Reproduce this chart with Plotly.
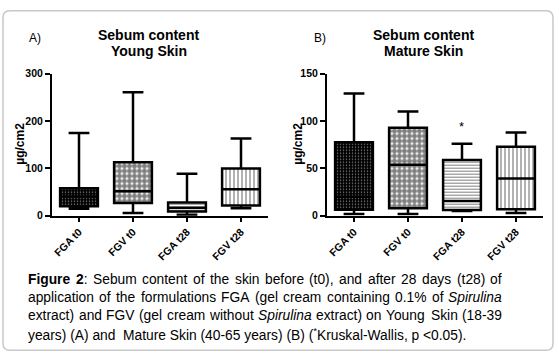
import re
import plotly.graph_objects as go

W, H = 559, 362

# ---------------- data ----------------
categories = ["FGA t0", "FGV t0", "FGA t28", "FGV t28"]

young_low = [15, 6, 2, 16]
young_q1 = [20, 27, 9, 22]
young_med = [41, 52, 17, 56]
young_q3 = [58, 113, 28, 100]
young_high = [175, 261, 89, 163]

mature_low = [2, 2, 5, 3]
mature_q1 = [6.5, 8, 6, 7]
mature_med = [20, 54, 15.5, 39.5]
mature_q3 = [77.5, 93, 59, 73]
mature_high = [129, 110, 76, 88]

young_ticks = [0, 100, 200, 300]
mature_ticks = [0, 50, 100, 150]

significant_mature = ["FGA t28"]

caption_lines = [
    "<b>Figure</b> <b>2</b>: Sebum content of the skin before (t0), and after 28 days (t28) of",
    "application of the formulations FGA (gel cream containing 0.1% of <i>Spirulina</i>",
    "extract) and FGV (gel cream without <i>Spirulina</i> extract) on Young Skin (18-39",
    "years) (A) and\u00a0 Mature Skin (40-65 years) (B) (<sup>*</sup>Kruskal-Wallis, p <0.05).",
]

# ---------------- helpers ----------------
def px_x(p):
    return p / W


def px_y(p):
    return 1 - p / H


REG = {" ": 278, "\u00a0": 278, "!": 278, "%": 889, "(": 333, ")": 333, "*": 389, ",": 278,
       "-": 333, ".": 278, "/": 278, ":": 278, "<": 584,
       "A": 667, "B": 667, "F": 611, "G": 778, "K": 667, "M": 833, "S": 667, "V": 667,
       "W": 944, "Y": 667,
       "a": 556, "b": 556, "c": 500, "d": 556, "e": 556, "f": 278, "g": 556, "h": 556,
       "i": 222, "j": 222, "k": 500, "l": 222, "m": 833, "n": 556, "o": 556, "p": 556,
       "q": 556, "r": 333, "s": 500, "t": 278, "u": 556, "v": 500, "w": 722, "x": 500,
       "y": 500, "z": 500}
for d in "0123456789":
    REG[d] = 556
BOLD = {"F": 611, "i": 278, "g": 611, "u": 611, "r": 389, "e": 556, " ": 278, "2": 556}


def text_width(s, size):
    bold = False
    sup = False
    w = 0.0
    for tok in re.split(r"(<[^>]+>)", s):
        if not tok:
            continue
        if tok.startswith("<"):
            if tok == "<b>":
                bold = True
            elif tok == "</b>":
                bold = False
            elif tok == "<sup>":
                sup = True
            elif tok == "</sup>":
                sup = False
            continue
        for ch in tok:
            cw = (BOLD.get(ch) if bold else None) or REG.get(ch, 556)
            w += cw * (0.7 if sup else 1.0)
    return w * size / 1000.0


# ---------------- figure ----------------
fig = go.Figure()

box_line = dict(color="black", width=2.5)
patterns = [
    dict(shape=".", fgcolor="white", bgcolor="black", size=3, solidity=0.2),
    dict(shape=".", fgcolor="black", bgcolor="white", size=5, solidity=0.78),
    dict(shape="-", fgcolor="black", bgcolor="white", size=3, solidity=0.35),
    dict(shape="|", fgcolor="black", bgcolor="white", size=4, solidity=0.3),
]

for (q1, q3, xa, ya) in [(young_q1, young_q3, "x", "y"), (mature_q1, mature_q3, "x2", "y2")]:
    for i, c in enumerate(categories):
        fig.add_trace(go.Bar(
            x=[c], y=[q3[i] - q1[i]], base=[q1[i]], width=0.7,
            marker=dict(color="white", line=dict(width=0), pattern=patterns[i]),
            xaxis=xa, yaxis=ya, showlegend=False, hoverinfo="skip"))

for (lo, q1, md, q3, hi, xa, ya) in [
    (young_low, young_q1, young_med, young_q3, young_high, "x", "y"),
    (mature_low, mature_q1, mature_med, mature_q3, mature_high, "x2", "y2"),
]:
    fig.add_trace(go.Box(
        x=categories, q1=q1, median=md, q3=q3, lowerfence=lo, upperfence=hi,
        width=0.7, whiskerwidth=0.55, boxpoints=False,
        line=box_line, fillcolor="rgba(0,0,0,0)",
        xaxis=xa, yaxis=ya, showlegend=False))

tickfont = dict(family="Liberation Sans, Arial", size=10.5, color="black", weight="bold")
xcommon = dict(type="category", categoryorder="array", categoryarray=categories,
               range=[-0.5, 3.5], showline=True, linecolor="black", linewidth=2,
               ticks="outside", ticklen=4, tickwidth=2, tickcolor="black",
               tickangle=-45, tickfont=tickfont, showgrid=False, zeroline=False)
ycommon = dict(showline=True, linecolor="black", linewidth=2, ticks="outside", ticklen=5,
               tickwidth=2, tickcolor="black", tickfont=tickfont, showgrid=False,
               zeroline=False)

ydom = [px_y(217), px_y(70)]
fig.update_layout(
    width=W, height=H,
    margin=dict(l=0, r=0, t=0, b=0),
    paper_bgcolor="white", plot_bgcolor="rgba(0,0,0,0)",
    barmode="overlay", boxmode="overlay",
    xaxis=dict(domain=[px_x(52), px_x(268)], anchor="y", **xcommon),
    yaxis=dict(domain=ydom, anchor="x", range=[0, 300], tickvals=young_ticks, **ycommon),
    xaxis2=dict(domain=[px_x(327), px_x(543)], anchor="y2", **xcommon),
    yaxis2=dict(domain=ydom, anchor="x2", range=[0, 150], tickvals=mature_ticks, **ycommon),
    font=dict(family="Liberation Sans, Arial", color="black"),
)

ann = []
title_font = dict(family="Liberation Sans, Arial", size=14, color="black", weight="bold")
for cx, sub in [(148.5, "Young Skin"), (423, "Mature Skin")]:
    ann.append(dict(x=px_x(cx), y=px_y(30), xref="paper", yref="paper", text="Sebum content",
                    showarrow=False, font=title_font, xanchor="center", yanchor="middle"))
    ann.append(dict(x=px_x(cx), y=px_y(47), xref="paper", yref="paper", text=sub,
                    showarrow=False, font=title_font, xanchor="center", yanchor="middle"))
for lx, lab in [(27, "A)"), (312, "B)")]:
    ann.append(dict(x=px_x(lx), y=px_y(33), xref="paper", yref="paper", text=lab,
                    showarrow=False, xanchor="left", yanchor="middle",
                    font=dict(family="Liberation Sans, Arial", size=12, color="black")))
for lx in [20, 298]:
    ann.append(dict(x=px_x(lx), y=px_y(142.5), xref="paper", yref="paper", text="µg/cm2",
                    textangle=-90, showarrow=False, xanchor="center", yanchor="middle",
                    font=dict(family="Liberation Sans, Arial", size=12, color="black",
                              weight="bold")))
for c in significant_mature:
    i = categories.index(c)
    ann.append(dict(x=c, y=mature_high[i] + 8, xref="x2", yref="y2", text="*",
                    showarrow=False, xanchor="center", yanchor="bottom",
                    font=dict(family="Liberation Sans, Arial", size=13, color="black")))

# caption (lines 1-3 justified word by word, last line left aligned)
cap_size = 13.8
cap_font = dict(family="Liberation Sans, Arial", size=cap_size, color="black")
left, right = 29, 503
baselines = [288, 306.7, 325.3, 344]
for li, line in enumerate(caption_lines):
    ycen = px_y(baselines[li] - 4.8)
    if li < 3:
        words = line.split(" ")
        widths = [text_width(w, cap_size) for w in words]
        gap = (right - left - sum(widths)) / (len(words) - 1)
        xpos = left
        for w, wd in zip(words, widths):
            ann.append(dict(x=px_x(xpos - 1), y=ycen, xref="paper", yref="paper", text=w,
                            showarrow=False, xanchor="left", yanchor="middle",
                            borderpad=0, borderwidth=0, font=cap_font))
            xpos += wd + gap
    else:
        ann.append(dict(x=px_x(left - 1), y=ycen, xref="paper", yref="paper", text=line,
                        showarrow=False, xanchor="left", yanchor="middle",
                        borderpad=0, borderwidth=0, font=cap_font))

fig.update_layout(annotations=ann)

# rounded frame around the whole figure
x0, x1, y0, y1, r = 3, 553, 5, 356, 7
path = (f"M {px_x(x0 + r)},{px_y(y0)} L {px_x(x1 - r)},{px_y(y0)} "
        f"Q {px_x(x1)},{px_y(y0)} {px_x(x1)},{px_y(y0 + r)} "
        f"L {px_x(x1)},{px_y(y1 - r)} Q {px_x(x1)},{px_y(y1)} {px_x(x1 - r)},{px_y(y1)} "
        f"L {px_x(x0 + r)},{px_y(y1)} Q {px_x(x0)},{px_y(y1)} {px_x(x0)},{px_y(y1 - r)} "
        f"L {px_x(x0)},{px_y(y0 + r)} Q {px_x(x0)},{px_y(y0)} {px_x(x0 + r)},{px_y(y0)} Z")
fig.add_shape(type="path", path=path, xref="paper", yref="paper",
              line=dict(color="#c8c8c8", width=1.5), layer="below")

fig.write_html(
    "out.html",
    config={"displayModeBar": False},
    post_script="document.body.style.margin='0';document.body.style.overflow='hidden';",
)
